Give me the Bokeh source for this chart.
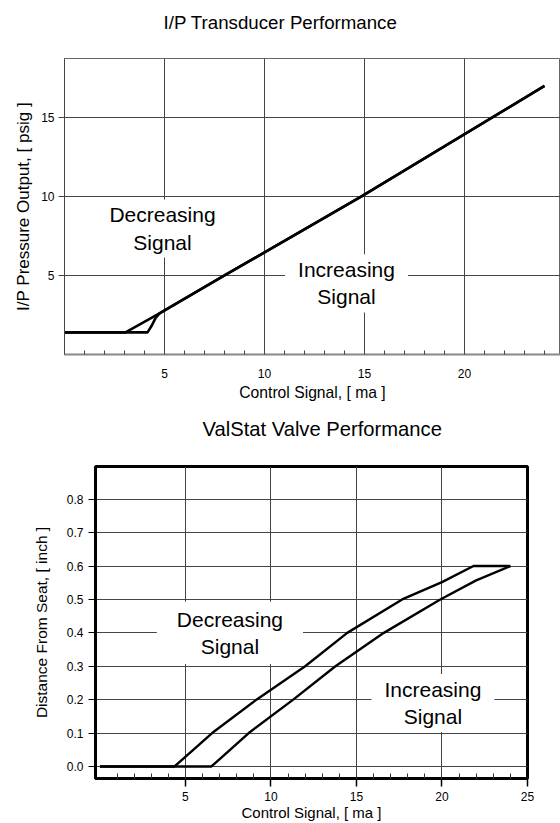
from bokeh.plotting import figure
from bokeh.models import FixedTicker, Label, NumeralTickFormatter, Range1d
from bokeh.embed import file_html
from bokeh.resources import INLINE

FONT = "Liberation Sans"

# ---- I/P Transducer data ----
ip_inc_x = [0, 4.15, 4.35, 4.55, 4.75, 8.0, 14.85, 24.0]
ip_inc_y = [1.4, 1.4, 1.8, 2.3, 2.6, 5.0, 10.0, 17.0]
ip_dec_x = [0, 3.05, 4.75, 8.0, 14.85, 24.0]
ip_dec_y = [1.4, 1.4, 2.6, 5.0, 10.0, 17.0]
ip_xticks = [5, 10, 15, 20]
ip_yticks = [5, 10, 15]
ip_minor = list(range(1, 25))

# ---- ValStat valve data ----
vs_dec_x = [0, 4.36, 6.56, 9.15, 12.0, 14.46, 17.67, 20.0, 21.84, 24.0]
vs_dec_y = [0, 0, 0.1, 0.2, 0.3, 0.4, 0.5, 0.552, 0.6, 0.6]
vs_inc_x = [0, 6.52, 8.7, 11.3, 13.77, 16.6, 19.9, 22.0, 24.0]
vs_inc_y = [0, 0, 0.1, 0.2, 0.3, 0.4, 0.5, 0.557, 0.6]
vs_xticks = [5, 10, 15, 20, 25]
vs_yticks = [0.0, 0.1, 0.2, 0.3, 0.4, 0.5, 0.6, 0.7, 0.8]
vs_minor = list(range(1, 25))

# ================= Top chart =================
p1 = figure(width=560, height=408, output_backend="svg", toolbar_location=None,
            x_range=Range1d(0, 24.8), y_range=Range1d(0, 18.73),
            min_border_left=64, min_border_right=0, min_border_top=58, min_border_bottom=54,
            title="I/P Transducer Performance\n ")
p1.title.text_font = FONT
p1.title.text_font_size = "18.7px"
p1.title.text_font_style = "normal"
p1.title.text_color = "black"
p1.title.align = "left"
p1.title.vertical_align = "top"
p1.title.offset = 99
p1.title.standoff = 6
p1.outline_line_color = "#666666"
p1.outline_line_width = 1
p1.background_fill_color = "white"
p1.border_fill_color = "white"

p1.xaxis.ticker = FixedTicker(ticks=ip_xticks, minor_ticks=ip_minor)
p1.yaxis.ticker = FixedTicker(ticks=ip_yticks)
p1.xgrid.ticker = FixedTicker(ticks=ip_xticks)
p1.ygrid.ticker = FixedTicker(ticks=ip_yticks)
for g in (p1.xgrid, p1.ygrid):
    g.grid_line_color = "#444444"
    g.grid_line_width = 1

p1.xaxis.axis_label = "Control Signal, [ ma ]"
p1.yaxis.axis_label = "I/P Pressure Output, [ psig ]"
for ax in (p1.xaxis, p1.yaxis):
    ax.axis_label_text_font = FONT
    ax.axis_label_text_font_style = "normal"
    ax.major_label_text_font = FONT
    ax.major_label_text_font_size = "12px"
    ax.major_label_text_color = "black"
    ax.axis_label_text_color = "black"
p1.xaxis.axis_label_text_font_size = "15.7px"
p1.yaxis.axis_label_text_font_size = "17px"
p1.xaxis.axis_line_color = "#888888"
p1.xaxis.axis_line_width = 2
p1.xaxis.major_tick_in = 0
p1.xaxis.major_tick_out = 0
p1.xaxis.minor_tick_in = 4
p1.xaxis.minor_tick_out = 0
p1.xaxis.minor_tick_line_color = "#444444"
p1.xaxis.major_label_standoff = 14
p1.xaxis.axis_label_standoff = 3
p1.yaxis.axis_line_color = "#444444"
p1.yaxis.major_tick_in = 0
p1.yaxis.major_tick_out = 6
p1.yaxis.major_tick_line_color = "#444444"
p1.yaxis.minor_tick_in = 0
p1.yaxis.minor_tick_out = 0
p1.yaxis.major_label_standoff = 4
p1.yaxis.axis_label_standoff = 5

p1.line(ip_dec_x, ip_dec_y, line_color="black", line_width=2.6, line_join="round")
p1.line(ip_inc_x, ip_inc_y, line_color="black", line_width=2.6, line_join="round")

p1.add_layout(Label(x=4.9, y=7.97, text="Decreasing\nSignal", text_align="center",
                    text_baseline="middle", text_font=FONT, text_font_size="21px",
                    text_line_height=1.18, text_color="black",
                    background_fill_color="white", padding=(12, 4)))
p1.add_layout(Label(x=14.1, y=4.5, text="Increasing\nSignal", text_align="center",
                    text_baseline="middle", text_font=FONT, text_font_size="21px",
                    text_line_height=1.18, text_color="black",
                    background_fill_color="white", padding=(13, 4)))

# ================= Bottom chart =================
p2 = figure(width=560, height=415, output_backend="svg", toolbar_location=None,
            x_range=Range1d(-0.26, 25.0), y_range=Range1d(-0.036, 0.898),
            min_border_left=95, min_border_right=33, min_border_top=58, min_border_bottom=45,
            title="ValStat Valve Performance\n ")
p2.title.text_font = FONT
p2.title.text_font_size = "20.2px"
p2.title.text_font_style = "normal"
p2.title.text_color = "black"
p2.title.align = "left"
p2.title.vertical_align = "top"
p2.title.offset = 107
p2.title.standoff = 6
p2.outline_line_color = "black"
p2.outline_line_width = 3
p2.background_fill_color = "white"
p2.border_fill_color = "white"

p2.xaxis.ticker = FixedTicker(ticks=vs_xticks, minor_ticks=vs_minor)
p2.yaxis.ticker = FixedTicker(ticks=vs_yticks)
p2.xgrid.ticker = FixedTicker(ticks=vs_xticks[:-1])
p2.ygrid.ticker = FixedTicker(ticks=vs_yticks)
p2.yaxis.formatter = NumeralTickFormatter(format="0.0")
for g in (p2.xgrid, p2.ygrid):
    g.grid_line_color = "#444444"
    g.grid_line_width = 1

p2.xaxis.axis_label = "Control Signal, [ ma ]"
p2.yaxis.axis_label = "Distance From Seat, [ inch ]"
for ax in (p2.xaxis, p2.yaxis):
    ax.axis_label_text_font = FONT
    ax.axis_label_text_font_style = "normal"
    ax.major_label_text_font = FONT
    ax.major_label_text_font_size = "12px"
    ax.major_label_text_color = "black"
    ax.axis_label_text_color = "black"
    ax.axis_line_color = "black"
    ax.axis_line_width = 3
p2.xaxis.axis_label_text_font_size = "15px"
p2.yaxis.axis_label_text_font_size = "15.5px"
p2.xaxis.major_tick_in = 0
p2.xaxis.major_tick_out = 8
p2.xaxis.major_tick_line_color = "black"
p2.xaxis.major_tick_line_width = 1.5
p2.xaxis.minor_tick_in = 5
p2.xaxis.minor_tick_out = 0
p2.xaxis.minor_tick_line_color = "#333333"
p2.xaxis.major_label_standoff = 5
p2.xaxis.axis_label_standoff = 0
p2.yaxis.major_tick_in = 0
p2.yaxis.major_tick_out = 7
p2.yaxis.major_tick_line_color = "black"
p2.yaxis.minor_tick_in = 0
p2.yaxis.minor_tick_out = 0
p2.yaxis.major_label_standoff = 5
p2.yaxis.axis_label_standoff = 14

p2.line(vs_dec_x, vs_dec_y, line_color="black", line_width=2.4, line_join="round")
p2.line(vs_inc_x, vs_inc_y, line_color="black", line_width=2.4, line_join="round")

p2.add_layout(Label(x=7.6, y=0.40, text="Decreasing\nSignal", text_align="center",
                    text_baseline="middle", text_font=FONT, text_font_size="21px",
                    text_line_height=1.18, text_color="black",
                    background_fill_color="white", padding=(20, 6)))
p2.add_layout(Label(x=19.47, y=0.19, text="Increasing\nSignal", text_align="center",
                    text_baseline="middle", text_font=FONT, text_font_size="21px",
                    text_line_height=1.18, text_color="black",
                    background_fill_color="white", padding=(13, 4)))

open("out.html", "w").write(file_html([p1, p2], INLINE))
